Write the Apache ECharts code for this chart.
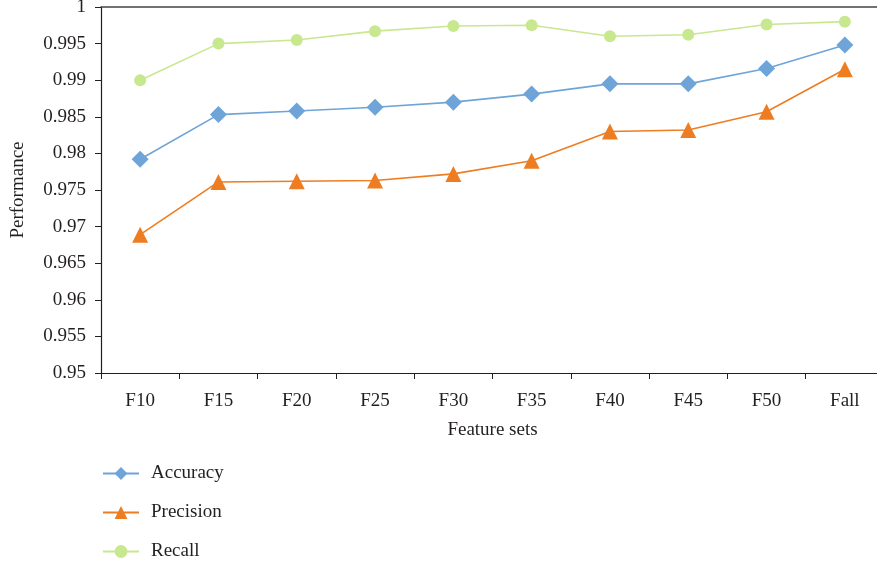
<!DOCTYPE html>
<html>
<head>
<meta charset="utf-8">
<script src="https://cdn.jsdelivr.net/npm/echarts@6/dist/echarts.min.js"></script>
<style>
  html, body { margin: 0; padding: 0; background: #fff; }
  #chart { width: 877px; height: 567px; }
</style>
</head>
<body>
<div id="chart"></div>
<script>
// Feature set categories along the x axis
const featureSets = ['F10', 'F15', 'F20', 'F25', 'F30', 'F35', 'F40', 'F45', 'F50', 'Fall'];

// Performance per feature set
const accuracy  = [0.9792, 0.9853, 0.9858, 0.9863, 0.9870, 0.9881, 0.9895, 0.9895, 0.9916, 0.9948];
const precision = [0.9689, 0.9761, 0.9762, 0.9763, 0.9772, 0.9790, 0.9830, 0.9832, 0.9857, 0.9915];
const recall    = [0.9900, 0.9950, 0.9955, 0.9967, 0.9974, 0.9975, 0.9960, 0.9962, 0.9976, 0.9980];

const FONT = '"Liberation Serif", "DejaVu Serif", serif';
const TEXT = '#231f20';
const FS = 19;

function lineSeries(name, data, color, symbol, size) {
  return {
    name: name,
    type: 'line',
    data: data,
    symbol: symbol,
    symbolSize: size,
    showAllSymbol: true,
    lineStyle: { color: color, width: 1.6 },
    itemStyle: { color: color },
    emphasis: { disabled: true },
    animation: false
  };
}

const chart = echarts.init(document.getElementById('chart'), null, { renderer: 'canvas' });
chart.setOption({
  backgroundColor: '#fff',
  animation: false,
  grid: { left: 101, right: -7, top: 7, height: 366, containLabel: false, outerBoundsMode: 'none' },
  legend: {
    orient: 'vertical',
    left: 102,
    top: 464,
    height: 103,
    padding: 0,
    itemWidth: 36,
    itemHeight: 16,
    itemGap: 20,
    textStyle: { fontFamily: FONT, fontSize: FS, color: TEXT, padding: [0, 0, 0, 7] },
    data: ['Accuracy', 'Precision', 'Recall']
  },
  xAxis: [{
    type: 'category',
    data: featureSets,
    boundaryGap: true,
    name: 'Feature sets',
    nameLocation: 'middle',
    nameGap: 48,
    nameTextStyle: { fontFamily: FONT, fontSize: FS, color: TEXT },
    axisLine: { lineStyle: { color: '#231f20', width: 1.2 } },
    axisTick: { show: true, length: 6, alignWithLabel: false, lineStyle: { color: '#231f20' } },
    axisLabel: { fontFamily: FONT, fontSize: FS, color: TEXT, margin: 19 },
    splitLine: { show: false }
  }, {
    type: 'category',
    data: featureSets,
    position: 'top',
    axisLine: { show: true, lineStyle: { color: '#444', width: 1.5 } },
    axisTick: { show: false },
    axisLabel: { show: false },
    splitLine: { show: false }
  }],
  yAxis: {
    type: 'value',
    min: 0.95,
    max: 1,
    interval: 0.005,
    name: 'Performance',
    nameLocation: 'middle',
    nameGap: 73,
    nameRotate: 90,
    nameTextStyle: { fontFamily: FONT, fontSize: FS, color: TEXT },
    axisLine: { show: true, lineStyle: { color: '#231f20', width: 1.2 } },
    axisTick: { show: true, length: 6, lineStyle: { color: '#231f20' } },
    axisLabel: {
      fontFamily: FONT, fontSize: FS, color: TEXT, margin: 15,
      formatter: v => String(parseFloat(v.toFixed(3)))
    },
    splitLine: { show: false }
  },
  series: [
    lineSeries('Accuracy', accuracy, '#6fa4d9', 'diamond', 17),
    lineSeries('Precision', precision, '#ee7d22', 'triangle', 16),
    lineSeries('Recall', recall, '#c8e890', 'circle', 12)
  ]
});
</script>
</body>
</html>
